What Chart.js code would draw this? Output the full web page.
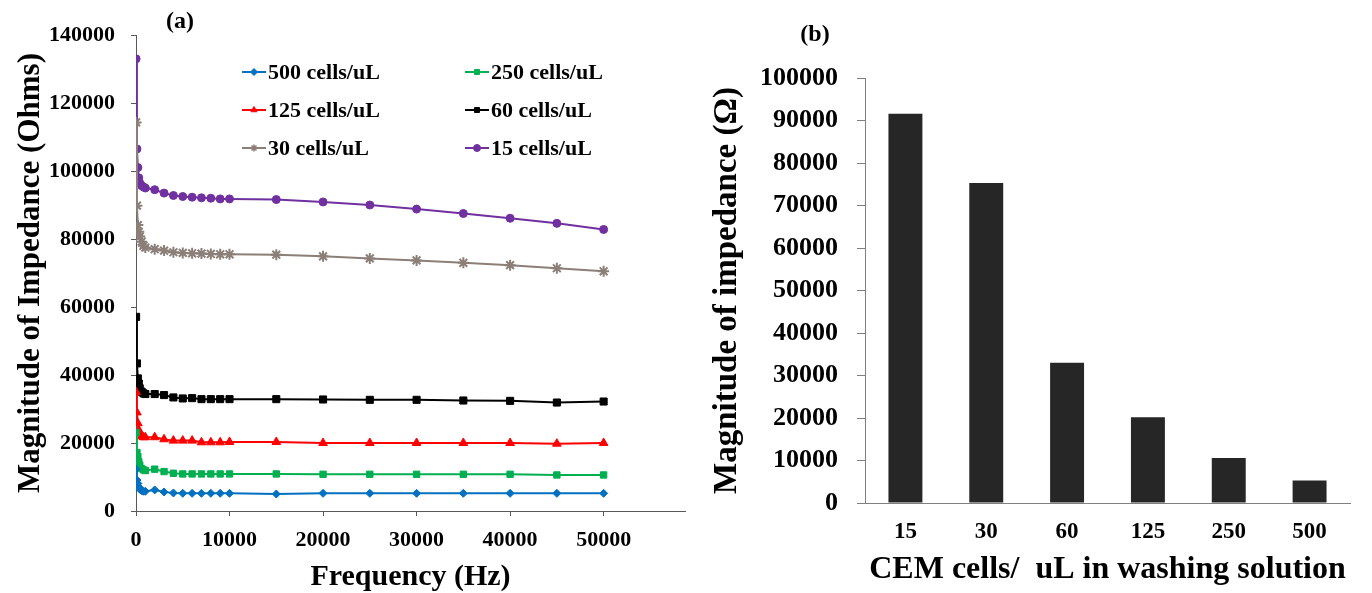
<!DOCTYPE html>
<html>
<head>
<meta charset="utf-8">
<script src="https://cdn.jsdelivr.net/npm/chart.js@4.4.0/dist/chart.umd.min.js"></script>
<style>
  body { margin: 0; background: #fff; }
  #wrap { position: relative; width: 1372px; height: 593px; }
  .box { position: absolute; top: 0; height: 593px; }
  #boxA { left: 0; width: 700px; }
  #boxB { left: 700px; width: 672px; }
</style>
</head>
<body>
<div id="wrap">
  <div class="box" id="boxA"><canvas id="impedanceChart"></canvas></div>
  <div class="box" id="boxB"><canvas id="barChart"></canvas></div>
</div>
<script>
// === données (a) : impédance vs fréquence ===
const frequencies = [10, 100, 200, 300, 400, 600, 800, 1000,
  2000, 3000, 4000, 5000, 6000, 7000, 8000, 9000, 10000,
  15000, 20000, 25000, 30000, 35000, 40000, 45000, 50000];

const z500 = [12300, 9100, 8100, 7100, 6400, 6000, 5800, 5800,
  6200, 5600, 5300, 5200, 5200, 5200, 5200, 5200, 5200,
  5000, 5200, 5200, 5200, 5200, 5200, 5200, 5200];
const z250 = [23100, 17200, 16000, 14500, 13500, 12500, 12100, 11900,
  12300, 11600, 11100, 10900, 10900, 10900, 10900, 10900, 10900,
  10900, 10800, 10800, 10800, 10800, 10800, 10600, 10600];
const z125 = [35000, 29000, 25800, 23800, 22800, 22000, 21700, 21700,
  21700, 21100, 20700, 20700, 20700, 20200, 20200, 20200, 20300,
  20300, 20000, 20000, 20000, 20000, 20000, 19800, 20000];
const z60 = [57100, 43400, 39000, 37500, 36100, 35100, 34600, 34400,
  34400, 34100, 33400, 33100, 33200, 32900, 32900, 32900, 32900,
  32900, 32800, 32700, 32700, 32500, 32400, 31900, 32200];
const z30 = [114300, 89800, 84100, 82100, 80700, 79200, 78000, 77500,
  77000, 76600, 76100, 75900, 75800, 75700, 75600, 75500, 75500,
  75400, 74900, 74300, 73700, 73000, 72300, 71400, 70500];
const z15 = [133000, 106500, 101000, 98000, 96500, 95700, 95300, 95000,
  94500, 93500, 92800, 92500, 92300, 92100, 92000, 91800, 91800,
  91600, 90900, 90000, 88800, 87500, 86100, 84600, 82800];

const seriesLabels = ['500 cells/uL', '250 cells/uL', '125 cells/uL', '60 cells/uL', '30 cells/uL', '15 cells/uL'];
const freqTicks = [0, 10000, 20000, 30000, 40000, 50000];
const impTicks = [0, 20000, 40000, 60000, 80000, 100000, 120000, 140000];

// === données (b) : barres ===
const barCategories = ['15', '30', '60', '125', '250', '500'];
const barValues = [91600, 75300, 33000, 20200, 10600, 5300];
const barTicks = [0, 10000, 20000, 30000, 40000, 50000, 60000, 70000, 80000, 90000, 100000];

const SERIF = '"Liberation Serif", "Times New Roman", serif';

function toPoints(values) {
  return values.map((v, i) => ({ x: frequencies[i], y: v }));
}

function fixedTicks(list) {
  return scale => { scale.ticks = list.map(v => ({ value: v })); };
}

// Légende à deux colonnes, dessinée dans la zone du graphique
const gridLegend = {
  id: 'gridLegend',
  afterDraw(chart) {
    const ctx = chart.ctx;
    const colX = [242, 465];
    const rowY = [72, 110, 148];
    ctx.save();
    chart.data.datasets.forEach((ds, i) => {
      const x0 = colX[i % 2];
      const y0 = rowY[Math.floor(i / 2)];
      ctx.strokeStyle = ds.borderColor;
      ctx.lineWidth = 2;
      ctx.beginPath();
      ctx.moveTo(x0, y0);
      ctx.lineTo(x0 + 24, y0);
      ctx.stroke();
      ctx.fillStyle = ds.pointBackgroundColor;
      ctx.strokeStyle = ds.pointBorderColor;
      ctx.lineWidth = ds.pointStyle === 'star' ? 1.5 : 1;
      Chart.helpers.drawPoint(ctx, {
        pointStyle: ds.pointStyle, radius: 3.5, rotation: 0, borderWidth: ctx.lineWidth
      }, x0 + 12, y0);
      ctx.fillStyle = '#000';
      ctx.font = 'bold 22px ' + SERIF;
      ctx.textBaseline = 'middle';
      ctx.textAlign = 'left';
      ctx.fillText(ds.label, x0 + 26, y0 + 1);
    });
    ctx.restore();
  }
};

function panelTag(text, x, y) {
  return {
    id: 'panelTag',
    afterDraw(chart) {
      const ctx = chart.ctx;
      ctx.save();
      ctx.fillStyle = '#000';
      ctx.font = 'bold 24px ' + SERIF;
      ctx.textAlign = 'center';
      ctx.textBaseline = 'middle';
      ctx.fillText(text, x, y);
      ctx.restore();
    }
  };
}

function lineSet(label, values, color, style, radius) {
  return {
    label: label,
    data: toPoints(values),
    borderColor: color,
    backgroundColor: color,
    pointBackgroundColor: color,
    pointBorderColor: color,
    pointStyle: style,
    pointRadius: radius,
    pointBorderWidth: style === 'star' ? 2 : 1,
    borderWidth: 2,
    tension: 0
  };
}

document.addEventListener('DOMContentLoaded', () => {
  Chart.defaults.font.family = SERIF;
  Chart.defaults.color = '#000';

  // === Graphique (a) ===
  new Chart(document.getElementById('impedanceChart'), {
    type: 'line',
    data: {
      datasets: [
        lineSet(seriesLabels[0], z500, '#0070C0', 'rectRot', 4),
        lineSet(seriesLabels[1], z250, '#00B050', 'rect', 4.5),
        lineSet(seriesLabels[2], z125, '#FF0000', 'triangle', 5),
        lineSet(seriesLabels[3], z60, '#000000', 'rect', 5),
        lineSet(seriesLabels[4], z30, '#8C7F78', 'star', 5.5),
        lineSet(seriesLabels[5], z15, '#7030A0', 'circle', 4)
      ]
    },
    options: {
      responsive: true,
      maintainAspectRatio: false,
      animation: false,
      layout: { padding: { top: 35, right: 15, left: 0, bottom: 0 } },
      plugins: { legend: { display: false }, tooltip: { enabled: false } },
      scales: {
        x: {
          type: 'linear',
          min: 0,
          max: 58700,
          afterBuildTicks: fixedTicks(freqTicks),
          afterFit: s => { s.height = 82; },
          border: { display: true, color: '#595959', width: 1 },
          grid: { display: true, drawOnChartArea: false, drawTicks: true, tickLength: 5, color: '#595959' },
          ticks: { padding: 11, maxRotation: 0, autoSkip: false, callback: v => String(v),
                   font: { size: 22, weight: 'bold' }, color: '#000' },
          title: { display: true, text: 'Frequency (Hz)', color: '#000',
                   font: { size: 30, weight: 'bold', lineHeight: 1 }, padding: { top: 0, bottom: 1 } }
        },
        y: {
          min: 0,
          max: 140000,
          afterBuildTicks: fixedTicks(impTicks),
          afterFit: s => { s.width = 136; },
          border: { display: true, color: '#595959', width: 1 },
          grid: { display: true, drawOnChartArea: false, drawTicks: true, tickLength: 5, color: '#595959' },
          ticks: { padding: 16, autoSkip: false, callback: v => String(v),
                   font: { size: 22, weight: 'bold' }, color: '#000' },
          title: { display: true, text: 'Magnitude of Impedance (Ohms)', color: '#000',
                   font: { size: 31, weight: 'bold' }, padding: { top: 12, bottom: 0 } }
        }
      }
    },
    plugins: [gridLegend, panelTag('(a)', 180, 22)]
  });

  // === Graphique (b) ===
  new Chart(document.getElementById('barChart'), {
    type: 'bar',
    data: {
      labels: barCategories,
      datasets: [{
        label: 'Magnitude of impedance',
        data: barValues,
        backgroundColor: '#262626',
        borderWidth: 0,
        categoryPercentage: 1,
        barPercentage: 0.42
      }]
    },
    options: {
      responsive: true,
      maintainAspectRatio: false,
      animation: false,
      layout: { padding: { top: 78, right: 22, left: 0, bottom: 0 } },
      plugins: { legend: { display: false }, tooltip: { enabled: false } },
      scales: {
        x: {
          afterFit: s => { s.height = 90; },
          border: { display: true, color: '#808080', width: 1 },
          grid: { display: false, drawTicks: false },
          ticks: { padding: 15, font: { size: 23, weight: 'bold' }, color: '#000' },
          title: { display: true, text: 'CEM cells/  uL in washing solution', color: '#000',
                   font: { size: 32, weight: 'bold' }, padding: { top: 0, bottom: 4 } }
        },
        y: {
          min: 0,
          max: 100000,
          afterBuildTicks: fixedTicks(barTicks),
          afterFit: s => { s.width = 165; },
          border: { display: true, color: '#808080', width: 1 },
          grid: { display: true, drawOnChartArea: false, drawTicks: true, tickLength: 8, color: '#808080' },
          ticks: { padding: 19, autoSkip: false, callback: v => String(v),
                   font: { size: 26, weight: 'bold' }, color: '#000' },
          title: { display: true, text: 'Magnitude of impedance (Ω)', color: '#000',
                   font: { size: 33, weight: 'bold' }, padding: { top: 8, bottom: 0 } }
        }
      }
    },
    plugins: [panelTag('(b)', 115, 35)]
  });
});
</script>
</body>
</html>
